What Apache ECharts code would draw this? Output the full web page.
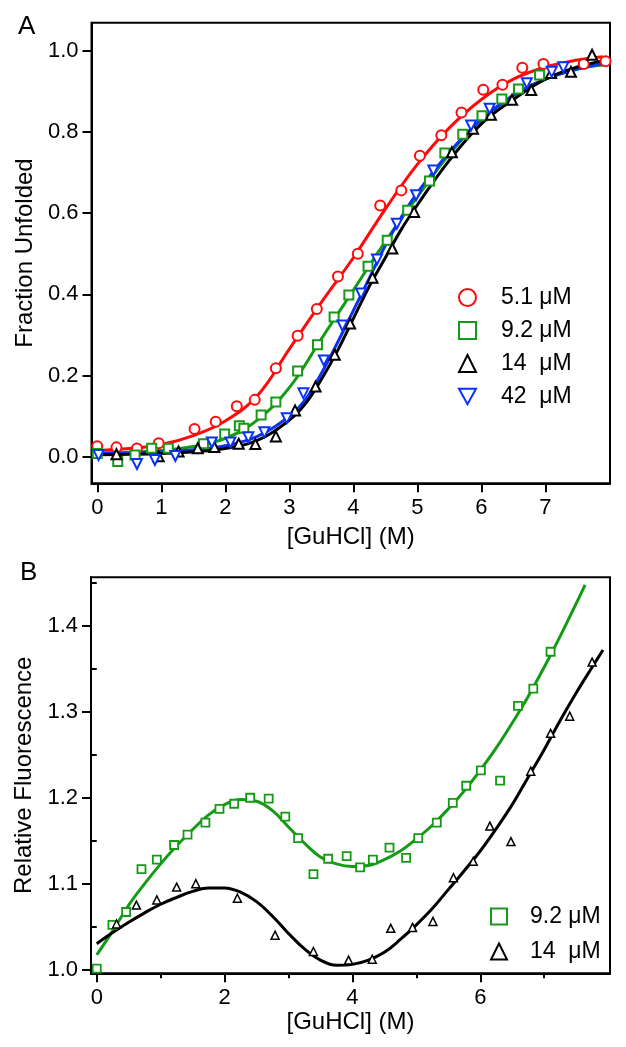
<!DOCTYPE html>
<html><head><meta charset="utf-8">
<script src="https://cdn.jsdelivr.net/npm/echarts@6/dist/echarts.min.js"></script>
<style>html,body{margin:0;padding:0;background:#fff}#c{width:626px;height:1047px}</style>
</head><body><div id="c"></div>
<script>
// ---------- Panel A data ----------
const xTicksA = [0,1,2,3,4,5,6,7];
const yTicksA = [0,0.2,0.4,0.6,0.8,1.0];
const red51 = [[0,0.026],[0.3,0.023],[0.62,0.02],[0.96,0.033],[1.52,0.068],[1.85,0.086],[2.18,0.124],[2.46,0.14],[2.79,0.218],[3.13,0.298],[3.43,0.364],[3.76,0.444],[4.07,0.5],[4.42,0.619],[4.75,0.656],[5.04,0.741],[5.375,0.792],[5.69,0.848],[6.03,0.904],[6.33,0.916],[6.64,0.958],[6.97,0.967],[7.6,0.967],[7.94,0.974]];
const green92A = [[0,0.008],[0.32,-0.012],[0.59,0.004],[0.85,0.021],[1.11,0.021],[1.66,0.032],[1.99,0.056],[2.22,0.076],[2.29,0.07],[2.56,0.103],[2.79,0.135],[3.13,0.211],[3.44,0.276],[3.70,0.344],[3.93,0.398],[4.23,0.469],[4.53,0.533],[4.85,0.607],[5.19,0.679],[5.43,0.748],[5.71,0.794],[6.01,0.84],[6.32,0.881],[6.58,0.906],[6.91,0.94]];
const black14A = [[0.3,0.006],[0.96,0.001],[1.27,0.013],[1.57,0.021],[1.83,0.024],[2.21,0.032],[2.47,0.031],[2.79,0.05],[3.09,0.114],[3.41,0.173],[3.71,0.251],[3.95,0.328],[4.30,0.441],[4.61,0.513],[4.95,0.603],[5.54,0.75],[5.87,0.808],[6.15,0.842],[6.48,0.879],[6.78,0.903],[7.09,0.945],[7.40,0.948],[7.73,0.99]];
const blue42 = [[0.02,0.004],[0.62,-0.018],[0.9,-0.008],[1.22,0.002],[1.79,0.035],[2.08,0.035],[2.36,0.048],[2.61,0.06],[2.96,0.095],[3.22,0.156],[3.54,0.237],[3.83,0.323],[4.12,0.402],[4.37,0.486],[4.68,0.574],[4.98,0.644],[5.25,0.705],[5.84,0.816],[6.13,0.857],[6.71,0.92],[7.10,0.948],[7.28,0.959]];
const fitRed = [[0,0.015],[0.5,0.02],[1,0.03],[1.5,0.052],[2,0.088],[2.5,0.15],[3,0.265],[3.5,0.38],[4,0.49],[4.5,0.61],[5,0.72],[5.5,0.81],[6,0.88],[6.5,0.93],[7,0.96],[7.5,0.977],[7.9,0.985]];
const fitGreen = [[0,0.01],[0.5,0.011],[1,0.015],[1.5,0.025],[2,0.045],[2.5,0.09],[3,0.17],[3.5,0.29],[4,0.41],[4.5,0.53],[5,0.64],[5.5,0.745],[6,0.83],[6.5,0.89],[7,0.93],[7.5,0.955],[7.9,0.965]];
const fitBlack = [[0,0.005],[0.5,0.006],[1,0.008],[1.5,0.012],[2,0.02],[2.5,0.04],[3,0.09],[3.25,0.13],[3.5,0.19],[3.75,0.26],[4,0.34],[4.25,0.42],[4.5,0.49],[4.75,0.56],[5,0.62],[5.5,0.73],[6,0.82],[6.5,0.88],[7,0.93],[7.5,0.96],[7.9,0.975]];
const fitBlue = [[0,0.008],[0.5,0.009],[1,0.012],[1.5,0.017],[2,0.027],[2.5,0.05],[3,0.1],[3.25,0.14],[3.5,0.205],[3.75,0.28],[4,0.36],[4.25,0.44],[4.5,0.52],[4.75,0.59],[5,0.65],[5.5,0.75],[6,0.83],[6.5,0.89],[7,0.93],[7.5,0.955],[7.9,0.968]];

// ---------- Panel B data ----------
const xTicksB = [0,2,4,6];
const xMinorB = [1,3,5,7];
const yTicksB = [1.0,1.1,1.2,1.3,1.4];
const yMinorB = [1.05,1.15,1.25,1.35,1.45];
const green92B = [[0,1.001],[0.245,1.052],[0.46,1.067],[0.70,1.117],[0.94,1.128],[1.21,1.145],[1.42,1.157],[1.70,1.171],[1.92,1.187],[2.15,1.193],[2.40,1.2],[2.69,1.199],[2.95,1.178],[3.15,1.153],[3.39,1.111],[3.62,1.129],[3.91,1.132],[4.12,1.119],[4.32,1.128],[4.58,1.142],[4.84,1.13],[5.03,1.153],[5.32,1.171],[5.57,1.194],[5.78,1.214],[6.01,1.232],[6.31,1.22],[6.59,1.307],[6.83,1.327],[7.10,1.37]];
const black14B = [[0.31,1.053],[0.62,1.075],[0.94,1.081],[1.25,1.096],[1.55,1.1],[2.20,1.083],[2.79,1.04],[3.39,1.021],[3.94,1.011],[4.31,1.012],[4.60,1.048],[4.94,1.049],[5.26,1.056],[5.58,1.107],[5.89,1.126],[6.15,1.167],[6.48,1.149],[6.79,1.231],[7.10,1.275],[7.40,1.295],[7.75,1.358]];
const fitGreenB = [[0,1.017],[0.25,1.045],[0.5,1.075],[0.75,1.1],[1,1.123],[1.25,1.144],[1.5,1.163],[1.75,1.18],[2,1.192],[2.25,1.198],[2.5,1.196],[2.75,1.185],[3,1.166],[3.25,1.147],[3.5,1.131],[3.75,1.123],[4,1.12],[4.25,1.121],[4.5,1.128],[4.75,1.138],[5,1.152],[5.25,1.168],[5.5,1.187],[5.75,1.208],[6,1.232],[6.25,1.258],[6.5,1.287],[6.75,1.318],[7,1.352],[7.25,1.388],[7.5,1.426],[7.64,1.448]];
const fitBlackB = [[0,1.03],[0.25,1.043],[0.5,1.055],[0.75,1.066],[1,1.076],[1.25,1.084],[1.5,1.091],[1.75,1.095],[2,1.095],[2.25,1.09],[2.5,1.079],[2.75,1.062],[3,1.042],[3.25,1.024],[3.5,1.011],[3.75,1.005],[4,1.006],[4.25,1.011],[4.5,1.02],[4.75,1.035],[5,1.052],[5.25,1.071],[5.5,1.093],[5.75,1.115],[6,1.138],[6.25,1.164],[6.5,1.192],[6.75,1.224],[7,1.256],[7.25,1.29],[7.5,1.322],[7.75,1.352],[7.92,1.372]];

const FONT = 'Liberation Sans, Arial, sans-serif';
const RED = '#ff0a0a', GREEN = '#149a14', BLUE = '#0a32f5', BLACK = '#000';
const DOWN_TRI = 'path://M0,0 L10,0 L5,9 Z';

function xAxisMain(grid, min, max, ticks, name, gap) {
  return {gridIndex:grid, type:'value', min:min, max:max, position:'bottom',
    axisLine:{show:true, onZero:false, lineStyle:{color:'#000', width:2}},
    axisTick:{show:true, customValues:ticks, length:9, lineStyle:{color:'#000', width:2}},
    axisLabel:{customValues:ticks, fontSize:22, color:'#000', margin:14, fontFamily:FONT},
    splitLine:{show:false},
    name:name, nameLocation:'middle', nameGap:gap,
    nameTextStyle:{fontSize:24, color:'#000', fontFamily:FONT}};
}
function minorAxis(kind, grid, min, max, ticks) {
  return {gridIndex:grid, type:'value', min:min, max:max, position: kind==='x'?'bottom':'left',
    axisLine:{show:false}, axisLabel:{show:false}, splitLine:{show:false},
    axisTick:{show:true, customValues:ticks, length:5, lineStyle:{color:'#000', width:2}}};
}
function yAxisMain(grid, min, max, ticks, name, gap) {
  return {gridIndex:grid, type:'value', min:min, max:max, position:'left',
    axisLine:{show:true, onZero:false, lineStyle:{color:'#000', width:2}},
    axisTick:{show:true, customValues:ticks, length:9, lineStyle:{color:'#000', width:2}},
    axisLabel:{customValues:ticks, fontSize:22, color:'#000', margin:13, fontFamily:FONT,
      formatter: v => Number(v).toFixed(1)},
    splitLine:{show:false},
    name:name, nameLocation:'middle', nameGap:gap,
    nameTextStyle:{fontSize:24, color:'#000', fontFamily:FONT}};
}
function fit(data, color, xi, yi) {
  return {type:'line', data:data, xAxisIndex:xi, yAxisIndex:yi, smooth:0.4, showSymbol:false,
    symbol:'none', lineStyle:{color:color, width:3}, silent:true, z:2};
}
function pts(name, data, color, symbol, size, xi, yi, bw) {
  return {type:'scatter', name:name, data:data, xAxisIndex:xi, yAxisIndex:yi,
    symbol:symbol, symbolSize:size,
    itemStyle:{color:'#fff', borderColor:color, borderWidth:bw, opacity:1}, z:3};
}

const chart = echarts.init(document.getElementById('c'), null, {renderer:'canvas'});
chart.setOption({
  backgroundColor:'#fff',
  animation:false,
  textStyle:{fontFamily:FONT},
  grid:[
    {left:91.5, top:22.7, width:518.5, height:460.6, show:true, borderColor:'#000', borderWidth:2, backgroundColor:'transparent'},
    {left:91, top:577.3, width:519, height:396, show:true, borderColor:'#000', borderWidth:2, backgroundColor:'transparent'}
  ],
  xAxis:[
    xAxisMain(0, -0.09, 8.01, xTicksA, '[GuHCl] (M)', 42),
    xAxisMain(1, -0.09, 8.03, xTicksB, '[GuHCl] (M)', 36),
    minorAxis('x', 1, -0.09, 8.03, xMinorB)
  ],
  yAxis:[
    yAxisMain(0, -0.0655, 1.069, yTicksA, 'Fraction Unfolded', 48),
    yAxisMain(1, 0.9956, 1.4567, yTicksB, 'Relative Fluorescence', 50),
    minorAxis('y', 1, 0.9956, 1.4567, yMinorB)
  ],
  legend:[
    {orient:'vertical', left:453, top:281, itemWidth:17, itemHeight:17, itemGap:10,
      data:[{name:'5.1 μM'},{name:'9.2 μM'},{name:'14  μM'},{name:'42  μM', icon:DOWN_TRI}],
      textStyle:{fontSize:23, color:'#000', fontFamily:FONT, padding:[0,0,0,20]},
      itemStyle:{borderWidth:2}},
    {orient:'vertical', left:485, top:900, itemWidth:16, itemHeight:16, itemGap:12,
      data:[{name:'9.2 μM '},{name:'14  μM '}],
      textStyle:{fontSize:23, color:'#000', fontFamily:FONT, padding:[0,0,0,18]},
      itemStyle:{borderWidth:2}}
  ],
  graphic:[
    {type:'text', left:18, top:14, style:{text:'A', fontSize:26, fill:'#000', fontFamily:FONT}},
    {type:'text', left:20, top:560, style:{text:'B', fontSize:26, fill:'#000', fontFamily:FONT}}
  ],
  series:[
    fit(fitRed, RED, 0, 0),
    fit(fitGreen, GREEN, 0, 0),
    fit(fitBlue, BLUE, 0, 0),
    fit(fitBlack, BLACK, 0, 0),
    pts('5.1 μM', red51, RED, 'circle', 10, 0, 0, 2),
    pts('9.2 μM', green92A, GREEN, 'rect', 9, 0, 0, 2),
    pts('14  μM', black14A, BLACK, 'triangle', 10, 0, 0, 2),
    pts('42  μM', blue42, BLUE, DOWN_TRI, 10, 0, 0, 2),
    fit(fitGreenB, GREEN, 1, 1),
    fit(fitBlackB, BLACK, 1, 1),
    pts('9.2 μM ', green92B, GREEN, 'rect', 8, 1, 1, 1.8),
    pts('14  μM ', black14B, BLACK, 'triangle', 8, 1, 1, 1.5)
  ]
});
</script>
</body></html>
